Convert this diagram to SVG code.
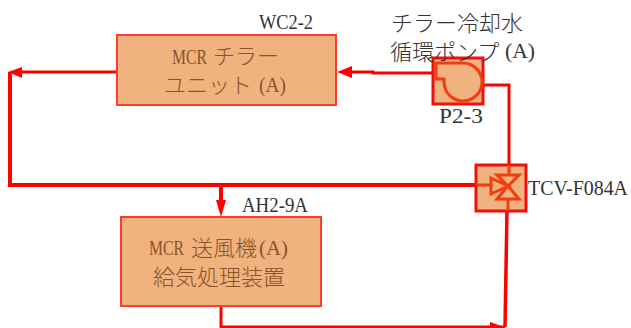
<svg xmlns="http://www.w3.org/2000/svg" width="631" height="328" viewBox="0 0 631 328">
<style>
text{font-family:"Liberation Serif","Noto Sans CJK JP",serif;font-size:20px;fill:#333}
.c{font-size:22px;font-family:"Noto Sans CJK JP",sans-serif;font-weight:300}
.j{font-size:22px;font-family:"Noto Sans CJK JP",sans-serif;font-weight:300;fill:#8a5228}
.l{font-size:20px;fill:#8a5228}
.box{fill:#f0b27e;stroke:#ff3b30;stroke-width:2}
.eq{fill:#f0b27e;stroke:#f01010;stroke-width:3}
.sym{fill:none;stroke:#f43c10;stroke-width:3}
.pipe{fill:none;stroke:#f00;stroke-linejoin:miter}
.head{fill:#f00}
</style>
<g id="connectors">
<path class="pipe" stroke-width="3" d="M433 73H373V72H350"/>
<polygon class="head" points="337,72 352,66 352,78"/>
<path class="pipe" stroke-width="3" d="M117 72H20"/>
<polygon class="head" points="8,72 22,67 22,78"/>
<path class="pipe" stroke-width="4" d="M10 72V185H476"/>
<path class="pipe" stroke-width="4" d="M221 185V202"/>
<polygon class="head" points="221,217 216,200 226,200"/>
<path class="pipe" stroke-width="3" d="M482 85H509V165"/>
<path class="pipe" stroke-width="3" d="M221 306V327H505"/>
<polygon class="head" points="504,327 490,322 490,327"/>
<path class="pipe" stroke-width="3.5" d="M507 211L505 327"/>
</g>
<g id="chiller">
<rect class="box" x="117" y="35" width="219" height="70"/>
<text class="l" x="172" y="64" textLength="35" lengthAdjust="spacingAndGlyphs">MCR</text><text class="j" x="213" y="64">チラー</text>
<text class="j" x="164" y="93">ユニット</text><text class="l" x="259" y="92" textLength="27" lengthAdjust="spacingAndGlyphs">(A)</text>
<text x="259" y="29" textLength="54" lengthAdjust="spacingAndGlyphs">WC2-2</text>
</g>
<g id="pump">
<rect class="eq" x="433" y="58" width="50" height="46"/>
<path class="sym" d="M436 63H463A19 19 0 1 1 444 82V79H436Z"/>
<text class="c" x="391" y="31">チラー冷却水</text>
<text class="c" x="390" y="60">循環ポンプ</text><text x="505" y="58" textLength="30" lengthAdjust="spacingAndGlyphs">(A)</text>
<text x="439" y="123" textLength="44" lengthAdjust="spacingAndGlyphs">P2-3</text>
</g>
<g id="valve">
<rect class="eq" x="476" y="165" width="50" height="46"/>
<path class="sym" d="M476 185H491M491 178V194L508 186ZM497 175H519L508 186L519 199H497L508 186ZM509 165V175M508 199V211"/>
<text x="528" y="195" textLength="100" lengthAdjust="spacingAndGlyphs">TCV-F084A</text>
</g>
<g id="ahu">
<rect class="box" x="121" y="217" width="200" height="89"/>
<text class="l" x="149" y="255" textLength="35" lengthAdjust="spacingAndGlyphs">MCR</text><text class="j" x="191" y="256">送風機</text><text class="l" x="259" y="255" textLength="29" lengthAdjust="spacingAndGlyphs">(A)</text>
<text class="j" x="153" y="285">給気処理装置</text>
<text x="242" y="212" textLength="66" lengthAdjust="spacingAndGlyphs">AH2-9A</text>
</g>
</svg>
